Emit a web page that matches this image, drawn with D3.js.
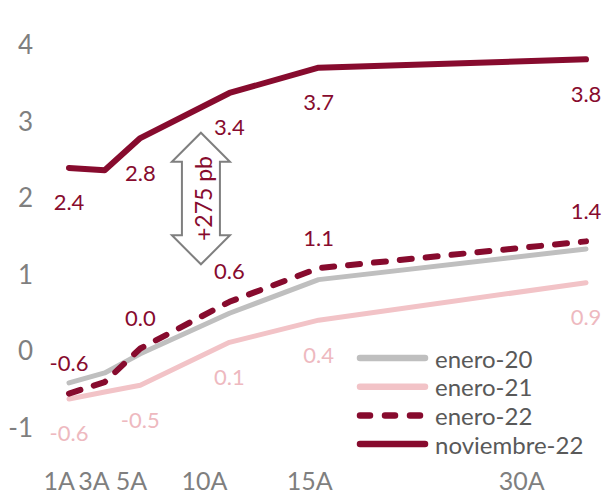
<!DOCTYPE html>
<html>
<head>
<meta charset="utf-8">
<script src="https://cdn.jsdelivr.net/npm/d3@7"></script>
<style>
  html, body { margin: 0; padding: 0; background: #fff; }
  svg { display: block; font-family: Lato, "Noto Sans", sans-serif; }
</style>
</head>
<body>
<svg id="chart" width="603" height="497"></svg>
<script>
// Plazos (años) y etiquetas del eje X
const years = [1, 3, 5, 10, 15, 30];
const tickLabels = ["1A", "3A", "5A", "10A", "15A", "30A"];
const tickLabelYears = [0.45, 2.4, 4.5, 8.6, 14.5, 26.4];
const yTicks = [-1, 0, 1, 2, 3, 4];

// Curvas (%)
const ene20 = [-0.43, -0.30, -0.05, 0.48, 0.92, 1.32];
const ene21 = [-0.64, -0.55, -0.46, 0.10, 0.39, 0.88];
const ene22 = [-0.57, -0.42, 0.02, 0.63, 1.07, 1.42];
const nov22 = [2.38, 2.35, 2.77, 3.36, 3.69, 3.80];

const seriesNames = ["enero-20", "enero-21", "enero-22", "noviembre-22"];
const labeledIdx = [0, 2, 3, 4, 5];

// Anotación del cambio
const spreadText = "+275 pb";
const spreadYear = 8.4;
const spreadTop = 2.84;
const spreadBottom = 1.12;

const RED = "#870B2E", PINK = "#F2C3C7", PINKTXT = "#EEB9BF", GRAY = "#BFBFBF";

const series = [
  { name: seriesNames[1], values: ene21, color: PINK, width: 5, dash: null, labels: "below", labelColor: PINKTXT },
  { name: seriesNames[0], values: ene20, color: GRAY, width: 5, dash: null, labels: null },
  { name: seriesNames[2], values: ene22, color: RED, width: 6, dash: "12,14", labels: "above", labelColor: RED },
  { name: seriesNames[3], values: nov22, color: RED, width: 6, dash: null, labels: "below", labelColor: RED }
];

const svg = d3.select("#chart");
const x = d3.scaleLinear().domain([1, 30]).range([69, 586]);
const y = d3.scaleLinear().domain([-1, 4]).range([426.5, 44]);
const fmt = d3.formatLocale({ decimal: ".", thousands: ",", grouping: [3], currency: ["$", ""], minus: "-" }).format(".1f");

// Eje Y (solo etiquetas)
svg.append("g").selectAll("text").data(yTicks).join("text")
  .attr("x", 33).attr("y", d => y(d))
  .attr("text-anchor", "end").attr("dominant-baseline", "central")
  .attr("font-size", 26).attr("fill", "#7F7F7F")
  .text(d => d < 0 ? "-" + Math.abs(d) : d);

// Eje X (solo etiquetas)
svg.append("g").selectAll("text").data(tickLabels).join("text")
  .attr("x", (d, i) => x(tickLabelYears[i])).attr("y", 490)
  .attr("text-anchor", "middle")
  .attr("font-size", 25).attr("fill", "#7F7F7F")
  .text(d => d);

// Líneas
const line = d3.line().x((d, i) => x(years[i])).y(d => y(d));
svg.append("g").selectAll("path").data(series).join("path")
  .attr("d", s => line(s.values))
  .attr("fill", "none")
  .attr("stroke", s => s.color)
  .attr("stroke-width", s => s.width)
  .attr("stroke-linecap", "round")
  .attr("stroke-linejoin", "round")
  .attr("stroke-dasharray", s => s.dash);

// Etiquetas de datos
series.filter(s => s.labels).forEach(s => {
  const off = s.labels === "above" ? -31 : 34;
  svg.append("g").selectAll("text").data(labeledIdx).join("text")
    .attr("x", i => x(years[i]))
    .attr("y", i => y(s.values[i]) + off)
    .attr("text-anchor", "middle").attr("dominant-baseline", "central")
    .attr("font-size", 22).attr("fill", s.labelColor)
    .text(i => fmt(s.values[i]));
});

// Flecha doble con la diferencia
const ax = x(spreadYear), yt = y(spreadTop), yb = y(spreadBottom);
const hw = 29, hh = 29, sw = 19;
const arrow = d3.path();
arrow.moveTo(ax, yt);
arrow.lineTo(ax + hw, yt + hh);
arrow.lineTo(ax + sw, yt + hh);
arrow.lineTo(ax + sw, yb - hh);
arrow.lineTo(ax + hw, yb - hh);
arrow.lineTo(ax, yb);
arrow.lineTo(ax - hw, yb - hh);
arrow.lineTo(ax - sw, yb - hh);
arrow.lineTo(ax - sw, yt + hh);
arrow.lineTo(ax - hw, yt + hh);
arrow.closePath();
svg.append("path").attr("d", arrow.toString())
  .attr("fill", "#fff").attr("stroke", "#7F7F7F").attr("stroke-width", 2)
  .attr("stroke-linejoin", "miter");
svg.append("text")
  .attr("transform", `translate(${ax + 2},${(yt + yb) / 2}) rotate(-90)`)
  .attr("text-anchor", "middle").attr("dominant-baseline", "central")
  .attr("font-size", 23).attr("fill", RED)
  .text(spreadText);

// Leyenda
const legendOrder = [series[1], series[0], series[2], series[3]];
const lg = svg.append("g").selectAll("g").data(legendOrder).join("g")
  .attr("transform", (d, i) => `translate(357,${358 + i * 28.7})`);
lg.append("line").attr("x1", 3).attr("x2", 68).attr("y1", 0).attr("y2", 0)
  .attr("stroke", d => d.color).attr("stroke-width", 6.5)
  .attr("stroke-linecap", "round")
  .attr("stroke-dasharray", d => d.dash ? "10,15" : null);
lg.append("text").attr("x", 78).attr("y", 0)
  .attr("dominant-baseline", "central")
  .attr("font-size", 24).attr("fill", "#595959")
  .text(d => d.name);
</script>
</body>
</html>
